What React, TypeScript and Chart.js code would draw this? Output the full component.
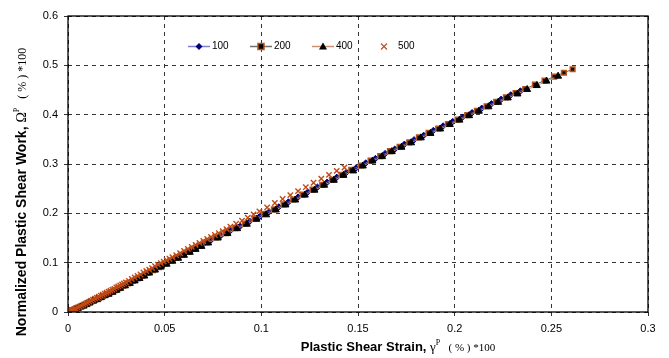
import React, { useEffect, useRef } from 'react';
import { Chart, registerables } from 'chart.js';
Chart.register(...registerables);

const seriesNames = ['100', '200', '400', '500'];

const s100X = [0, 0.0015, 0.003, 0.0045, 0.006, 0.0075, 0.009, 0.011, 0.013, 0.015, 0.017, 0.019, 0.021, 0.023, 0.025, 0.0275, 0.030, 0.0325, 0.035, 0.0375, 0.040, 0.043, 0.046, 0.049, 0.052, 0.055, 0.058, 0.061, 0.064, 0.067, 0.070, 0.074, 0.079, 0.084, 0.089, 0.094, 0.099, 0.104, 0.109, 0.114, 0.119, 0.124, 0.129, 0.134, 0.139, 0.144, 0.149, 0.154, 0.159, 0.164, 0.169, 0.174, 0.179, 0.184, 0.189, 0.194, 0.199, 0.204, 0.209, 0.214, 0.219, 0.224, 0.229, 0.234];
const s100Y = [0, 0.002, 0.005, 0.007, 0.010, 0.013, 0.015, 0.019, 0.023, 0.026, 0.030, 0.034, 0.038, 0.042, 0.046, 0.051, 0.056, 0.061, 0.066, 0.071, 0.077, 0.083, 0.089, 0.095, 0.102, 0.108, 0.114, 0.120, 0.126, 0.132, 0.138, 0.146, 0.155, 0.165, 0.174, 0.184, 0.193, 0.203, 0.213, 0.223, 0.233, 0.243, 0.253, 0.263, 0.273, 0.283, 0.292, 0.302, 0.311, 0.321, 0.330, 0.340, 0.349, 0.358, 0.368, 0.377, 0.386, 0.395, 0.404, 0.413, 0.422, 0.431, 0.440, 0.448];

const s200X = [0, 0.001, 0.0025, 0.004, 0.0055, 0.007, 0.0085, 0.010, 0.012, 0.014, 0.016, 0.018, 0.020, 0.022, 0.024, 0.026, 0.0285, 0.031, 0.0335, 0.036, 0.0385, 0.041, 0.044, 0.047, 0.050, 0.053, 0.056, 0.059, 0.062, 0.065, 0.068, 0.0715, 0.0765, 0.0815, 0.0865, 0.0915, 0.0965, 0.1015, 0.1065, 0.1115, 0.1165, 0.1215, 0.1265, 0.1315, 0.1365, 0.1415, 0.1465, 0.1515, 0.1565, 0.1615, 0.1665, 0.1715, 0.1765, 0.1815, 0.1865, 0.1915, 0.1965, 0.2015, 0.2065, 0.2115, 0.2165, 0.2215, 0.2265, 0.2315, 0.2365, 0.2415, 0.2465, 0.2515, 0.2565, 0.261];
const s200Y = [0, 0.001, 0.004, 0.006, 0.009, 0.012, 0.014, 0.017, 0.021, 0.025, 0.028, 0.032, 0.036, 0.040, 0.044, 0.048, 0.053, 0.058, 0.063, 0.068, 0.073, 0.079, 0.085, 0.091, 0.098, 0.104, 0.110, 0.116, 0.122, 0.128, 0.134, 0.141, 0.151, 0.160, 0.170, 0.179, 0.189, 0.199, 0.208, 0.218, 0.228, 0.238, 0.248, 0.258, 0.268, 0.278, 0.288, 0.297, 0.307, 0.316, 0.326, 0.335, 0.344, 0.354, 0.363, 0.372, 0.381, 0.390, 0.399, 0.408, 0.417, 0.426, 0.435, 0.444, 0.452, 0.461, 0.469, 0.477, 0.485, 0.492];

const s400X = [0, 0.001, 0.002, 0.0035, 0.005, 0.0065, 0.008, 0.0095, 0.011, 0.013, 0.015, 0.017, 0.019, 0.021, 0.023, 0.025, 0.027, 0.0295, 0.032, 0.0345, 0.037, 0.0395, 0.042, 0.045, 0.048, 0.051, 0.054, 0.057, 0.060, 0.063, 0.066, 0.069, 0.0725, 0.0775, 0.0825, 0.0875, 0.0925, 0.0975, 0.1025, 0.1075, 0.1125, 0.1175, 0.1225, 0.1275, 0.1325, 0.1375, 0.1425, 0.1475, 0.1525, 0.1575, 0.1625, 0.1675, 0.1725, 0.1775, 0.1825, 0.1875, 0.1925, 0.1975, 0.2025, 0.2075, 0.2125, 0.2175, 0.2225, 0.2275, 0.2325, 0.2375, 0.2425, 0.2475, 0.2535];
const s400Y = [0, 0.001, 0.002, 0.005, 0.007, 0.010, 0.012, 0.015, 0.018, 0.022, 0.025, 0.029, 0.033, 0.036, 0.040, 0.044, 0.048, 0.053, 0.058, 0.063, 0.068, 0.073, 0.079, 0.085, 0.091, 0.097, 0.103, 0.109, 0.115, 0.121, 0.127, 0.133, 0.140, 0.150, 0.159, 0.169, 0.178, 0.188, 0.197, 0.207, 0.217, 0.227, 0.237, 0.247, 0.257, 0.267, 0.277, 0.286, 0.296, 0.306, 0.315, 0.325, 0.334, 0.343, 0.353, 0.362, 0.371, 0.380, 0.389, 0.398, 0.407, 0.416, 0.425, 0.434, 0.442, 0.451, 0.459, 0.468, 0.478];

const s500X = [0, 0.0005, 0.001, 0.0015, 0.002, 0.0025, 0.003, 0.0035, 0.004,
  0.005, 0.006, 0.007, 0.008, 0.009, 0.010, 0.011, 0.012, 0.013, 0.014, 0.015, 0.016, 0.017, 0.018, 0.019, 0.020, 0.021, 0.022, 0.023, 0.024, 0.025, 0.026, 0.027, 0.028, 0.029, 0.030,
  0.0315, 0.033, 0.0345, 0.036, 0.0375, 0.039, 0.0405, 0.042, 0.0435, 0.045, 0.0465, 0.048, 0.0495, 0.051, 0.0525,
  0.054, 0.056, 0.058, 0.060, 0.062, 0.064, 0.066, 0.068, 0.070, 0.072, 0.074, 0.076, 0.078, 0.080, 0.082, 0.084,
  0.087, 0.090, 0.093, 0.096, 0.099,
  0.103, 0.107, 0.111, 0.115, 0.119, 0.123, 0.127, 0.131, 0.135, 0.139, 0.143];
const s500Y = [0, 0.001, 0.002, 0.003, 0.004, 0.004, 0.005, 0.006, 0.007,
  0.009, 0.011, 0.013, 0.015, 0.017, 0.019, 0.021, 0.023, 0.025, 0.027, 0.029, 0.031, 0.033, 0.035, 0.037, 0.039, 0.041, 0.043, 0.045, 0.047, 0.050, 0.052, 0.054, 0.056, 0.058, 0.060,
  0.063, 0.067, 0.070, 0.073, 0.076, 0.080, 0.083, 0.086, 0.089, 0.093, 0.096, 0.099, 0.102, 0.105, 0.108,
  0.111, 0.115, 0.119, 0.124, 0.128, 0.132, 0.136, 0.140, 0.144, 0.148, 0.152, 0.156, 0.160, 0.164, 0.168, 0.173,
  0.179, 0.185, 0.191, 0.198, 0.204,
  0.212, 0.221, 0.229, 0.237, 0.245, 0.253, 0.262, 0.270, 0.278, 0.286, 0.293];

const xTickLabels = ['0', '0.05', '0.1', '0.15', '0.2', '0.25', '0.3'];
const yTickLabels = ['0', '0.1', '0.2', '0.3', '0.4', '0.5', '0.6'];

const SANS = '"Liberation Sans", Arial, sans-serif';
const SERIF = '"Liberation Serif", "Times New Roman", serif';

const pts = (xs: number[], ys: number[]) => xs.map((x, i) => ({ x, y: ys[i] }));

type Run = { text: string; font: string; dy: number };

function drawRuns(ctx: CanvasRenderingContext2D, runs: Run[], cx: number, cy: number) {
  let total = 0;
  for (const r of runs) { ctx.font = r.font; total += ctx.measureText(r.text).width; }
  let x = cx - total / 2;
  ctx.textBaseline = 'alphabetic';
  ctx.textAlign = 'left';
  for (const r of runs) {
    ctx.font = r.font;
    ctx.fillText(r.text, x, cy + r.dy);
    x += ctx.measureText(r.text).width;
  }
}

const decorPlugin = {
  id: 'decor',
  afterDraw(chart: any) {
    const ctx: CanvasRenderingContext2D = chart.ctx;
    const a = chart.chartArea;
    ctx.save();
    ctx.strokeStyle = '#000';
    ctx.lineWidth = 1.3;
    ctx.setLineDash([]);
    ctx.strokeRect(a.left, a.top, a.right - a.left, a.bottom - a.top);

    const ly = 46.5;
    const items = [
      { x0: 188, line: '#8080cc', mk: 'diamond', tx: 212 },
      { x0: 250, line: '#707070', mk: 'square', tx: 274 },
      { x0: 312, line: '#cc9070', mk: 'triangle', tx: 336 },
      { x0: 373, line: null, mk: 'cross', tx: 398 },
    ];
    items.forEach((it, i) => {
      const cx = it.x0 + 11;
      if (it.line) {
        ctx.strokeStyle = it.line;
        ctx.lineWidth = 1.5;
        ctx.beginPath();
        ctx.moveTo(it.x0, ly);
        ctx.lineTo(it.x0 + 22, ly);
        ctx.stroke();
      }
      ctx.lineWidth = 1;
      if (it.mk === 'diamond') {
        ctx.fillStyle = '#000080';
        ctx.beginPath();
        ctx.moveTo(cx, ly - 3.5); ctx.lineTo(cx + 3.5, ly); ctx.lineTo(cx, ly + 3.5); ctx.lineTo(cx - 3.5, ly);
        ctx.closePath(); ctx.fill();
      } else if (it.mk === 'square') {
        ctx.fillStyle = '#000';
        ctx.strokeStyle = '#b5541c';
        ctx.lineWidth = 1.5;
        ctx.fillRect(cx - 3, ly - 3, 6, 6);
        ctx.strokeRect(cx - 3, ly - 3, 6, 6);
      } else if (it.mk === 'triangle') {
        ctx.fillStyle = '#000';
        ctx.beginPath();
        ctx.moveTo(cx, ly - 4); ctx.lineTo(cx + 4, ly + 3); ctx.lineTo(cx - 4, ly + 3);
        ctx.closePath(); ctx.fill();
      } else {
        ctx.strokeStyle = '#c0501f';
        ctx.lineWidth = 1.2;
        ctx.beginPath();
        ctx.moveTo(cx - 3, ly - 3); ctx.lineTo(cx + 3, ly + 3);
        ctx.moveTo(cx + 3, ly - 3); ctx.lineTo(cx - 3, ly + 3);
        ctx.stroke();
      }
      ctx.fillStyle = '#000';
      ctx.font = `10px ${SANS}`;
      ctx.textBaseline = 'middle';
      ctx.textAlign = 'left';
      ctx.fillText(seriesNames[i], it.tx, ly);
    });

    ctx.fillStyle = '#000';
    drawRuns(ctx, [
      { text: 'Plastic Shear Strain, ', font: `bold 13px ${SANS}`, dy: 0 },
      { text: 'γ', font: `13px ${SERIF}`, dy: 0 },
      { text: 'P', font: `8px ${SERIF}`, dy: -6 },
      { text: '   ( % ) *100', font: `11px ${SERIF}`, dy: 0 },
    ], 398, 351);

    ctx.translate(21, 192);
    ctx.rotate(-Math.PI / 2);
    drawRuns(ctx, [
      { text: 'Normalized Plastic Shear Work, ', font: `bold 14px ${SANS}`, dy: 0 },
      { text: 'Ω', font: `14px ${SERIF}`, dy: 0 },
      { text: 'P', font: `8px ${SERIF}`, dy: -7 },
      { text: '   ( % ) *100', font: `12px ${SERIF}`, dy: 0 },
    ], 0, 5);
    ctx.restore();
  },
};

export default function App() {
  const ref = useRef<HTMLCanvasElement | null>(null);
  useEffect(() => {
    if (!ref.current) return;
    const chart = new Chart(ref.current, {
      type: 'line',
      data: {
        datasets: [
          {
            label: seriesNames[0], data: pts(s100X, s100Y), order: 4,
            borderColor: '#7070c8', borderWidth: 1,
            pointStyle: 'rectRot', pointRadius: 3.2, pointBackgroundColor: '#000080', pointBorderColor: '#000080', pointBorderWidth: 1,
          },
          {
            label: seriesNames[1], data: pts(s200X, s200Y), order: 3,
            borderColor: '#606060', borderWidth: 1,
            pointStyle: 'rect', pointRadius: 3.3, pointBackgroundColor: '#111', pointBorderColor: '#b5541c', pointBorderWidth: 1.5,
          },
          {
            label: seriesNames[2], data: pts(s400X, s400Y), order: 2,
            borderColor: '#cc9070', borderWidth: 1,
            pointStyle: 'triangle', pointRadius: 4, pointBackgroundColor: '#000', pointBorderColor: '#000', pointBorderWidth: 1,
          },
          {
            label: seriesNames[3], data: pts(s500X, s500Y), order: 1, showLine: false,
            borderColor: '#c0501f', borderWidth: 1,
            pointStyle: 'crossRot', pointRadius: 3.8, pointBackgroundColor: '#c04a14', pointBorderColor: '#c04a14', pointBorderWidth: 1.4,
          },
        ],
      },
      options: {
        responsive: false,
        animation: false,
        devicePixelRatio: 1,
        layout: { padding: { left: 0, top: 16, right: 21, bottom: 0 } },
        plugins: { legend: { display: false }, tooltip: { enabled: false }, title: { display: false } },
        scales: {
          x: {
            type: 'linear', min: 0, max: 0.3,
            afterFit: (s: any) => { s.height = 46; },
            ticks: {
              stepSize: 0.05, color: '#000', font: { family: SANS, size: 11 }, padding: 6, maxRotation: 0,
              callback: (_v: any, i: number) => xTickLabels[i],
            },
            grid: { color: '#333', lineWidth: 1, tickLength: 4, drawTicks: true },
            border: { display: false, dash: [4, 4] },
          },
          y: {
            type: 'linear', min: 0, max: 0.6,
            afterFit: (s: any) => { s.width = 68; },
            ticks: {
              stepSize: 0.1, color: '#000', font: { family: SANS, size: 11 }, padding: 6,
              callback: (_v: any, i: number) => yTickLabels[i],
            },
            grid: { color: '#333', lineWidth: 1, tickLength: 4, drawTicks: true },
            border: { display: false, dash: [4, 4] },
          },
        },
      },
      plugins: [decorPlugin],
    });
    return () => chart.destroy();
  }, []);
  return (
    <div style={{ position: 'absolute', left: 0, top: 0, width: 669, height: 358, background: '#fff' }}>
      <canvas ref={ref} width={669} height={358} style={{ width: 669, height: 358, display: 'block' }} />
    </div>
  );
}
